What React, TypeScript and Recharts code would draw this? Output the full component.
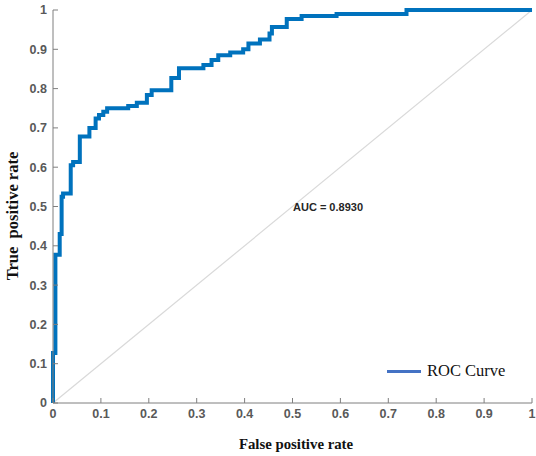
import { LineChart, Line, XAxis, YAxis, ReferenceLine } from 'recharts';

const fprValues = [
  0, 0, 0.005, 0.014, 0.018, 0.021, 0.037, 0.042, 0.056, 0.076, 0.089, 0.096,
  0.105, 0.113, 0.157, 0.175, 0.196, 0.206, 0.247, 0.263, 0.314, 0.331, 0.345,
  0.37, 0.397, 0.408, 0.432, 0.452, 0.457, 0.488, 0.519, 0.592, 0.738, 1,
];
const tprValues = [
  0, 0.127, 0.377, 0.43, 0.525, 0.533, 0.605, 0.613, 0.678, 0.7, 0.724, 0.733,
  0.741, 0.75, 0.756, 0.764, 0.784, 0.796, 0.827, 0.852, 0.86, 0.873, 0.885,
  0.892, 0.9, 0.915, 0.925, 0.94, 0.957, 0.977, 0.985, 0.99, 1, 1,
];
const axisTicks = [0, 0.1, 0.2, 0.3, 0.4, 0.5, 0.6, 0.7, 0.8, 0.9, 1];
const aucText = 'AUC = 0.8930';
const legendText = 'ROC Curve';

const rocData = fprValues.map((fpr, i) => ({ fpr, tpr: tprValues[i] }));

const tickStyle = {
  fill: '#595959',
  fontSize: 12.5,
  fontWeight: 700,
  fontFamily: '"Liberation Sans", Arial, sans-serif',
};
const axisColor = '#7f7f7f';
const serif = '"Liberation Serif", "Times New Roman", serif';
const noLabel = () => <g />;

export default function App() {
  return (
    <div style={{ position: 'absolute', left: 0, top: 0, width: 536, height: 456, background: '#fff' }}>
      <LineChart width={536} height={456} data={rocData} margin={{ top: 10, right: 4, left: 0, bottom: 0 }}>
        <XAxis
          dataKey="fpr"
          type="number"
          domain={[0, 1]}
          ticks={axisTicks}
          height={53}
          stroke={axisColor}
          tickSize={-5}
          tickMargin={11}
          tick={tickStyle}
          interval={0}
        />
        <XAxis
          xAxisId="top"
          orientation="top"
          dataKey="fpr"
          type="number"
          domain={[0, 1]}
          ticks={axisTicks}
          height={0}
          stroke={axisColor}
          tickSize={-5}
          tick={noLabel}
          interval={0}
        />
        <YAxis
          type="number"
          domain={[0, 1]}
          ticks={axisTicks}
          width={53}
          stroke={axisColor}
          tickSize={-5}
          tickMargin={11}
          tick={tickStyle}
          interval={0}
        />
        <YAxis
          yAxisId="right"
          orientation="right"
          type="number"
          domain={[0, 1]}
          ticks={axisTicks}
          width={0}
          stroke={axisColor}
          tickSize={-5}
          tick={noLabel}
          interval={0}
        />
        <ReferenceLine
          segment={[{ x: 0, y: 0 }, { x: 1, y: 1 }]}
          stroke="#d9d9d9"
          strokeWidth={1.2}
        />
        <Line
          type="stepAfter"
          dataKey="tpr"
          stroke="#0072BD"
          strokeWidth={4}
          dot={false}
          isAnimationActive={false}
        />
      </LineChart>

      <div
        style={{
          position: 'absolute', left: 293, top: 201, fontFamily: '"Liberation Sans", Arial, sans-serif',
          fontWeight: 700, fontSize: 11, color: '#262626', whiteSpace: 'nowrap',
        }}
      >
        {aucText}
      </div>

      <div style={{ position: 'absolute', left: 387, top: 361, display: 'flex', alignItems: 'center' }}>
        <div style={{ width: 34, height: 3, background: '#4472C4' }} />
        <span style={{ marginLeft: 6, fontFamily: serif, fontSize: 16.5, color: '#111', whiteSpace: 'nowrap' }}>
          {legendText}
        </span>
      </div>

      <div
        style={{
          position: 'absolute', left: 296, top: 444, transform: 'translate(-50%, -50%)',
          fontFamily: serif, fontWeight: 700, fontSize: 14.8, color: '#111', whiteSpace: 'pre',
        }}
      >
        False positive rate
      </div>
      <div
        style={{
          position: 'absolute', left: 13, top: 216, transform: 'translate(-50%, -50%) rotate(-90deg)',
          fontFamily: serif, fontWeight: 700, fontSize: 16.5, color: '#111', whiteSpace: 'pre',
        }}
      >
        True  positive rate
      </div>
    </div>
  );
}
